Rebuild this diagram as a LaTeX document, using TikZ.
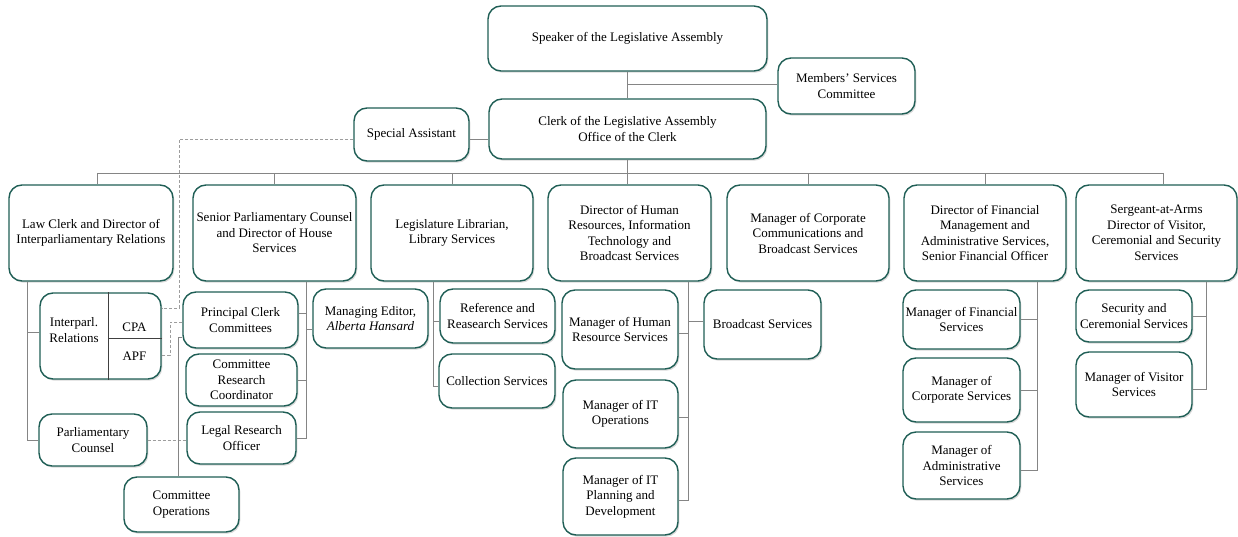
\documentclass[tikz,border=0pt]{standalone}
\usepackage{fontspec}
\setmainfont{Liberation Serif}
\usetikzlibrary{shadows}
\definecolor{boxteal}{HTML}{1F5E55}
\definecolor{linegray}{HTML}{858585}
\begin{document}
\begin{tikzpicture}[x=1pt,y=-1pt,
  box/.style={draw=boxteal, line width=1.4pt, fill=white, rounded corners=13pt,
    align=center, inner sep=0pt, font=\fontsize{13}{15.5}\selectfont,
    drop shadow={shadow xshift=1.3pt, shadow yshift=-1.7pt, opacity=0.3}},
  sz/.style 2 args={minimum width=#1pt, minimum height=#2pt},
  txt/.style={align=center, inner sep=0pt, font=\fontsize{13}{15.5}\selectfont},
  conn/.style={draw=linegray, line width=0.9pt},
  dconn/.style={draw=linegray!80, line width=0.9pt, dash pattern=on 3pt off 2pt},
  divider/.style={draw=black!75, line width=0.8pt}]
\useasboundingbox (0,0) rectangle (1238,537);

% ---------- top ----------
\node[box, sz={279}{65}] (spk) at (627.5,38.5) {Speaker of the Legislative Assembly};
\node[box, sz={137}{56}] (mem) at (846.5,86) {Members’ Services\\Committee};
\node[box, sz={277}{60}] (clerk) at (627.5,129) {Clerk of the Legislative Assembly\\Office of the Clerk};
\node[box, sz={115}{53}] (sa) at (411.5,134.5) {Special Assistant};

% ---------- level 2 ----------
\node[box, sz={164}{96}] (law) at (91,233) {Law Clerk and Director of\\Interparliamentary Relations};
\node[box, sz={163}{96}] (sen) at (274.5,233) {Senior Parliamentary Counsel\\and Director of House\\Services};
\node[box, sz={162}{96}] (lib) at (452,233) {Legislature Librarian,\\Library Services};
\node[box, sz={163}{96}] (hr) at (629.5,233) {Director of Human\\Resources, Information\\Technology and\\Broadcast Services};
\node[box, sz={162}{96}] (corp) at (808,233) {Manager of Corporate\\Communications and\\Broadcast Services};
\node[box, sz={162}{96}] (fin) at (985,233) {Director of Financial\\Management and\\Administrative Services,\\Senior Financial Officer};
\node[box, sz={161}{96}] (sgt) at (1156.5,233) {Sergeant-at-Arms\\Director of Visitor,\\Ceremonial and Security\\Services};

% ---------- law clerk column ----------
\node[box, sz={121}{86}] (ip) at (100.5,336) {};
\coordinate (ipx) at (108,338);
\draw[divider] (ipx |- ip.north) -- (ipx |- ip.south);
\draw[divider] (ipx) -- (ipx -| ip.east);
\node[txt] (ipl) at (74,330) {Interparl.\\Relations};
\node[txt] (cpa) at (134.5,327) {CPA};
\node[txt] (apf) at (134.5,356) {APF};
\node[box, sz={108}{52}] (pc) at (93,440) {Parliamentary\\Counsel};

% ---------- senior counsel column ----------
\node[box, sz={115}{56}] (pcc) at (240.5,320) {Principal Clerk\\Committees};
\node[box, sz={111}{52}] (crc) at (241.5,380) {Committee\\Research\\Coordinator};
\node[box, sz={109}{52}] (lro) at (241.5,438) {Legal Research\\Officer};
\node[box, sz={115}{55}] (cops) at (181.5,504.5) {Committee\\Operations};
\node[box, sz={115}{59}] (me) at (370.5,318.5) {Managing Editor,\\\textit{Alberta Hansard}};

% ---------- library column ----------
\node[box, sz={115}{54}] (ref) at (497.5,316) {Reference and\\Reasearch Services};
\node[box, sz={116}{54}] (coll) at (497,381) {Collection Services};

% ---------- HR column ----------
\node[box, sz={116}{79}] (mhr) at (620,329.5) {Manager of Human\\Resource Services};
\node[box, sz={115}{68}] (itops) at (620.5,414) {Manager of IT\\Operations};
\node[box, sz={115}{77}] (itpl) at (620.5,496.5) {Manager of IT\\Planning and\\Development};
\node[box, sz={117}{69}] (bc) at (762.5,324.5) {Broadcast Services};

% ---------- financial column ----------
\node[box, sz={117}{59}] (mf) at (961.5,319.5) {Manager of Financial\\Services};
\node[box, sz={117}{64}] (mcs) at (961.5,390) {Manager of\\Corporate Services};
\node[box, sz={117}{67}] (ma) at (961.5,465.5) {Manager of\\Administrative\\Services};

% ---------- sergeant column ----------
\node[box, sz={116}{52}] (sec) at (1134,316) {Security and\\Ceremonial Services};
\node[box, sz={116}{65}] (vis) at (1134,384.5) {Manager of Visitor\\Services};

% ---------- connectors: top ----------
\draw[conn] (spk.south) -- (clerk.north);
\draw[conn] ([yshift=2pt]mem.west) -- ([yshift=2pt]mem.west -| spk.south);
\draw[conn] ([yshift=-5pt]sa.east) -- ([yshift=-5pt]sa.east -| clerk.west);
\coordinate (busL) at (97,173);
\coordinate (busR) at (1163,173);
\draw[conn] (busL) -- (busR);
\draw[conn] (clerk.south) -- (clerk.south |- hr.north);
\draw[conn] (busL) -- (busL |- law.north);
\draw[conn] (sen.north) -- (sen.north |- busL);
\draw[conn] (lib.north) -- (lib.north |- busL);
\draw[conn] (corp.north) -- (corp.north |- busL);
\draw[conn] (fin.north) -- (fin.north |- busL);
\draw[conn] (busR) -- (busR |- sgt.north);

% ---------- connectors: law clerk ----------
\coordinate (lawv) at (27,0);
\draw[conn] (lawv |- law.south) |- (pc.west);
\draw[conn] ([yshift=4pt]ip.west) -- ([yshift=4pt]ip.west -| lawv);
\coordinate (d1) at (179,308);
\draw[dconn] ([yshift=-5pt]sa.west) -| (d1) -- (d1 -| ip.east);
\coordinate (d2a) at (170,322);
\coordinate (d2b) at (170,355);
\draw[dconn] (d2a -| pcc.west) -- (d2a) -- (d2b) -- (d2b -| ip.east);
\draw[dconn] (pc.east) -- (pc.east -| lro.west);

% ---------- connectors: senior counsel ----------
\coordinate (sv) at (306,0);
\draw[conn] (sv |- sen.south) |- (lro.east);
\draw[conn] ([yshift=7pt]pcc.east) -| (sv |- sen.south);
\draw[conn] ([yshift=-11pt]me.west) -| (sv |- sen.south);
\draw[conn] (crc.east) -| (sv |- sen.south);
\coordinate (cv) at (178,337);
\draw[conn] (cv -| pcc.west) -- (cv) -- (cv |- cops.north);

% ---------- connectors: library ----------
\coordinate (lv) at (433,0);
\draw[conn] (lv |- lib.south) |- ([yshift=-5pt]coll.west);
\draw[conn] ([yshift=-5pt]ref.west) -| (lv |- lib.south);

% ---------- connectors: HR ----------
\coordinate (hv) at (688,0);
\draw[conn] (hv |- hr.south) |- ([yshift=-3.5pt]itpl.east);
\draw[conn] ([yshift=-3.5pt]mhr.east) -| (hv |- hr.south);
\draw[conn] ([yshift=-3pt]itops.east) -| (hv |- hr.south);
\draw[conn] ([yshift=3.5pt]bc.west) -| (hv |- hr.south);

% ---------- connectors: financial ----------
\coordinate (fv) at (1037,0);
\draw[conn] (fv |- fin.south) |- ([yshift=-4.5pt]ma.east);
\draw[conn] (mf.east) -| (fv |- fin.south);
\draw[conn] (mcs.east) -| (fv |- fin.south);

% ---------- connectors: sergeant ----------
\coordinate (gv) at (1206,0);
\draw[conn] (gv |- sgt.south) |- ([yshift=-4.5pt]vis.east);
\draw[conn] (sec.east) -| (gv |- sgt.south);
\end{tikzpicture}
\end{document}
